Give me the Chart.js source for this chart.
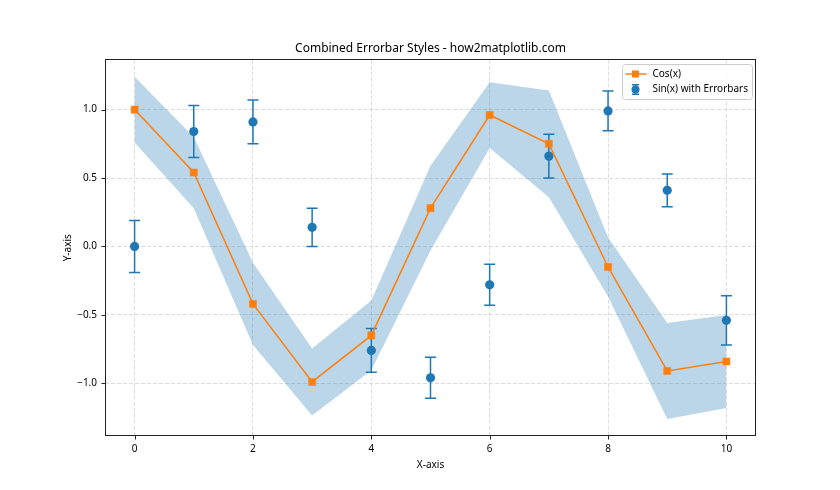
<!DOCTYPE html>
<html><head><meta charset="utf-8">
<script src="https://cdn.jsdelivr.net/npm/chart.js@4.4.1/dist/chart.umd.min.js"></script>
<style>html,body{margin:0;padding:0;background:#fff}#wrap{width:840px;height:490px;position:relative}</style>
</head><body>
<div id="wrap"><canvas id="c" width="840" height="490"></canvas></div>
<script>
// ---- data ----
const xs = [0, 1, 2, 3, 4, 5, 6, 7, 8, 9, 10];
const sinY = [0.00, 0.84, 0.91, 0.14, -0.76, -0.96, -0.28, 0.66, 0.99, 0.41, -0.54];
const sinErr = [0.19, 0.19, 0.16, 0.14, 0.16, 0.15, 0.15, 0.16, 0.145, 0.12, 0.18];
const cosY = [1.00, 0.54, -0.42, -0.99, -0.65, 0.28, 0.96, 0.75, -0.15, -0.91, -0.84];
const cosErr = [0.24, 0.26, 0.30, 0.245, 0.255, 0.31, 0.24, 0.39, 0.215, 0.35, 0.34];
const xTicks = [0, 2, 4, 6, 8, 10];
const xTickLabels = ['0', '2', '4', '6', '8', '10'];
const yTicks = [-1.0, -0.5, 0.0, 0.5, 1.0];
const yTickLabels = ['\u22121.0', '\u22120.5', '0.0', '0.5', '1.0'];
const titleText = 'Combined Errorbar Styles - how2matplotlib.com';
const cosLabel = 'Cos(x)';
const sinLabel = 'Sin(x) with Errorbars';

const BLUE = '#1f77b4', ORANGE = '#ff7f0e';
const FONT = '"Noto Sans", "Open Sans", sans-serif';
Chart.defaults.font.family = FONT;
Chart.defaults.color = '#000';

const pts = (ys) => xs.map((x, i) => ({x, y: ys[i]}));
const upper = xs.map((x, i) => ({x, y: cosY[i] + cosErr[i]}));
const lower = xs.map((x, i) => ({x, y: cosY[i] - cosErr[i]}));

const errPlugin = {
  id: 'errbars',
  beforeDatasetDraw(chart, args) {
    if (args.index !== 1) return;
    const {ctx, scales: {x, y}} = chart;
    const cap = 5.5;
    ctx.save();
    ctx.strokeStyle = BLUE; ctx.lineWidth = 1.5;
    xs.forEach((xv, i) => {
      const px = x.getPixelForValue(xv);
      const t = y.getPixelForValue(sinY[i] + sinErr[i]);
      const b = y.getPixelForValue(sinY[i] - sinErr[i]);
      ctx.beginPath();
      ctx.moveTo(px, t); ctx.lineTo(px, b);
      ctx.moveTo(px - cap, t); ctx.lineTo(px + cap, t);
      ctx.moveTo(px - cap, b); ctx.lineTo(px + cap, b);
      ctx.stroke();
    });
    ctx.restore();
  }
};

const framePlugin = {
  id: 'frame',
  afterDatasetsDraw(chart) {
    const {ctx, chartArea: a, scales: {x, y}} = chart;
    ctx.save();
    ctx.strokeStyle = '#222'; ctx.lineWidth = 1;
    ctx.strokeRect(Math.round(a.left) + 0.5, Math.round(a.top) + 0.5, Math.round(a.right - a.left) - 1, Math.round(a.bottom - a.top) - 1);
    ctx.beginPath();
    xTicks.forEach(v => { const p = Math.round(x.getPixelForValue(v)) + 0.5; ctx.moveTo(p, a.bottom); ctx.lineTo(p, a.bottom + 3.5); });
    yTicks.forEach(v => { const p = Math.round(y.getPixelForValue(v)) + 0.5; ctx.moveTo(a.left, p); ctx.lineTo(a.left - 3.5, p); });
    ctx.stroke();
    ctx.restore();
  }
};

const legendPlugin = {
  id: 'customLegend',
  afterDraw(chart) {
    const {ctx} = chart;
    const bx = 622.5, by = 64.5, bw = 130, bh = 35, r = 3;
    ctx.save();
    ctx.beginPath();
    ctx.moveTo(bx + r, by); ctx.lineTo(bx + bw - r, by); ctx.quadraticCurveTo(bx + bw, by, bx + bw, by + r);
    ctx.lineTo(bx + bw, by + bh - r); ctx.quadraticCurveTo(bx + bw, by + bh, bx + bw - r, by + bh);
    ctx.lineTo(bx + r, by + bh); ctx.quadraticCurveTo(bx, by + bh, bx, by + bh - r);
    ctx.lineTo(bx, by + r); ctx.quadraticCurveTo(bx, by, bx + r, by);
    ctx.fillStyle = 'rgba(255,255,255,0.8)'; ctx.fill();
    ctx.strokeStyle = '#cccccc'; ctx.lineWidth = 1; ctx.stroke();
    const mx = 635.5, y1 = 74, y2 = 89.5;
    // cos entry
    ctx.strokeStyle = ORANGE; ctx.lineWidth = 1.5;
    ctx.beginPath(); ctx.moveTo(625.5, y1); ctx.lineTo(646.5, y1); ctx.stroke();
    ctx.fillStyle = ORANGE; ctx.fillRect(mx - 3.5, y1 - 3.5, 7, 7);
    // sin entry
    ctx.strokeStyle = BLUE; ctx.lineWidth = 1.5;
    ctx.beginPath();
    ctx.moveTo(mx, y2 - 4.7); ctx.lineTo(mx, y2 + 4.7);
    ctx.moveTo(mx - 3.5, y2 - 4.7); ctx.lineTo(mx + 3.5, y2 - 4.7);
    ctx.moveTo(mx - 3.5, y2 + 4.7); ctx.lineTo(mx + 3.5, y2 + 4.7);
    ctx.stroke();
    ctx.fillStyle = BLUE; ctx.beginPath(); ctx.arc(mx, y2, 4, 0, Math.PI * 2); ctx.fill();
    ctx.fillStyle = '#000'; ctx.font = '10px ' + FONT; ctx.textBaseline = 'middle'; ctx.textAlign = 'left';
    ctx.fillText(chart.data.datasets[0].label, 652.5, y1);
    ctx.fillText(chart.data.datasets[1].label, 652.5, y2);
    ctx.restore();
  }
};

const gridOpts = {color: 'rgba(176,176,176,0.55)', lineWidth: 0.8, drawTicks: false};

new Chart(document.getElementById('c'), {
  type: 'line',
  data: {
    datasets: [
      {label: cosLabel, data: pts(cosY), borderColor: ORANGE, backgroundColor: ORANGE, borderWidth: 1.5,
       pointStyle: 'rect', pointRadius: 5, pointBorderWidth: 0.5, pointBackgroundColor: ORANGE, pointBorderColor: ORANGE,
       fill: false, tension: 0, order: 0},
      {label: sinLabel, data: pts(sinY), showLine: false, pointStyle: 'circle', pointRadius: 4.6, pointBorderWidth: 0,
       pointBackgroundColor: BLUE, borderColor: BLUE, backgroundColor: BLUE, fill: false, order: 1},
      {label: 'upper', data: upper, borderWidth: 0, borderColor: 'rgba(0,0,0,0)', pointRadius: 0,
       backgroundColor: 'rgba(31,119,180,0.3)', fill: '+1', tension: 0, order: 2},
      {label: 'lower', data: lower, borderWidth: 0, borderColor: 'rgba(0,0,0,0)', pointRadius: 0,
       backgroundColor: 'rgba(0,0,0,0)', fill: false, tension: 0, order: 3}
    ]
  },
  options: {
    responsive: false, animation: false, devicePixelRatio: 1,
    layout: {padding: {left: 21, right: 0, top: 0, bottom: 0}},
    plugins: {
      legend: {display: false}, tooltip: {enabled: false},
      title: {display: true, text: titleText, color: '#000', font: {family: FONT, size: 12, weight: 'normal'},
              padding: {top: 41.3, bottom: 3.8}}
    },
    scales: {
      x: {type: 'linear', min: -0.5, max: 10.5,
          afterBuildTicks: s => { s.ticks = xTicks.map(v => ({value: v})); },
          afterFit: s => { s.height = 54; },
          ticks: {font: {size: 10}, color: '#000', padding: 7, maxRotation: 0,
                  callback: (v) => xTickLabels[xTicks.indexOf(v)]},
          grid: gridOpts, border: {display: false, dash: [4, 2]},
          title: {display: true, text: 'X-axis', font: {size: 10}, color: '#000', padding: {top: 0, bottom: 19}}},
      y: {type: 'linear', min: -1.385, max: 1.366,
          afterBuildTicks: s => { s.ticks = yTicks.map(v => ({value: v})); },
          afterFit: s => { s.width = 84; },
          ticks: {font: {size: 10}, color: '#000', padding: 8,
                  callback: (v) => yTickLabels[yTicks.indexOf(v)]},
          grid: gridOpts, border: {display: false, dash: [4, 2]},
          title: {display: true, text: 'Y-axis', font: {size: 10}, color: '#000', padding: {top: 41, bottom: 0}}},
      yRight: {type: 'linear', position: 'right', display: true, min: 0, max: 1,
          afterFit: s => { s.width = 84; },
          ticks: {display: false}, grid: {display: false, drawTicks: false}, border: {display: false}}
    }
  },
  plugins: [errPlugin, framePlugin, legendPlugin]
});
</script>
</body></html>
